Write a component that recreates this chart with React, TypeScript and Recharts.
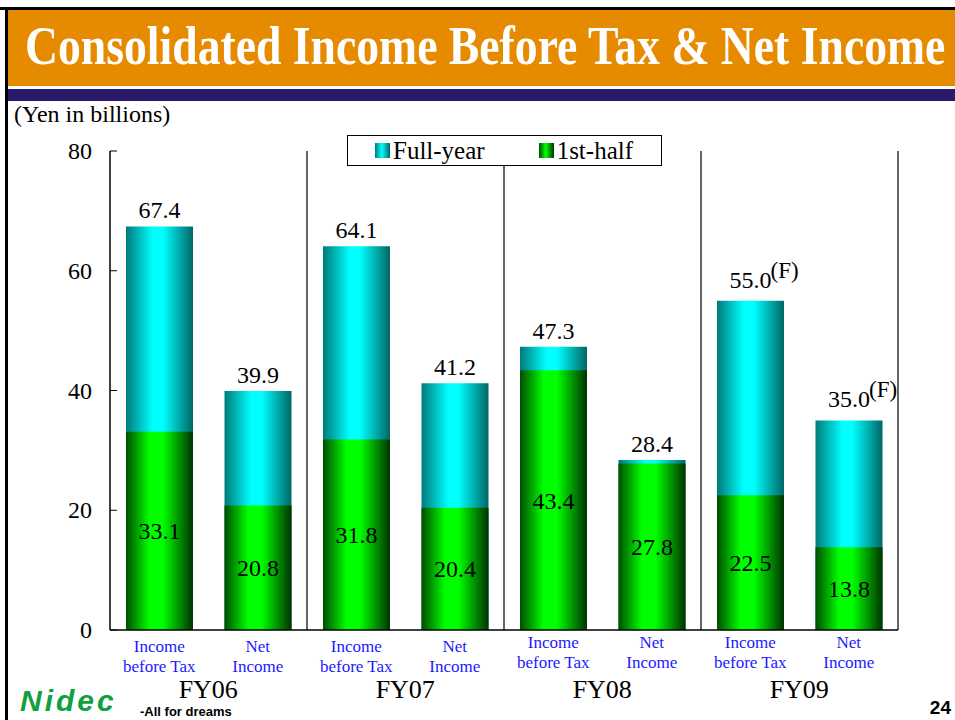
import React from "react";
import {
  BarChart,
  Bar,
  XAxis,
  YAxis,
  CartesianGrid,
  Legend,
  LabelList,
} from "recharts";

const years = ["FY06", "FY07", "FY08", "FY09"];
const itemLabels = [
  ["Income", "before Tax"],
  ["Net", "Income"],
];
const fullYear = [67.4, 39.9, 64.1, 41.2, 47.3, 28.4, 55.0, 35.0];
const firstHalf = [33.1, 20.8, 31.8, 20.4, 43.4, 27.8, 22.5, 13.8];
const forecast = [false, false, false, false, false, false, true, true];
const yTicks = [0, 20, 40, 60, 80];

const data = fullYear.map((v, i) => ({
  id: `${years[Math.floor(i / 2)]}-${i % 2}`,
  full: v,
  half: firstHalf[i],
}));

const SERIF = "'Liberation Serif', 'Times New Roman', serif";
const SANS = "'Liberation Sans', Arial, sans-serif";

const YTick = (props: any) => {
  const { x, y, payload } = props;
  return (
    <g>
      <line x1={x} y1={y} x2={x + 7} y2={y} stroke="#000" strokeWidth={1} />
      <text
        x={x - 18}
        y={y}
        dy={8}
        textAnchor="end"
        fontSize={24}
        fontFamily={SERIF}
        fill="#000"
      >
        {payload.value}
      </text>
    </g>
  );
};

const XTick = (props: any) => {
  const { x, y, index } = props;
  const lines = itemLabels[index % 2];
  const shift = index >= 4 ? -4 : 0;
  return (
    <g>
      {lines.map((t, k) => (
        <text
          key={k}
          x={x}
          y={y + 22 + k * 20 + shift}
          textAnchor="middle"
          fontSize={17}
          fontFamily={SERIF}
          fill="#1a1aff"
        >
          {t}
        </text>
      ))}
      {index % 2 === 0 && (
        <text
          x={x + 49}
          y={y + 68}
          textAnchor="middle"
          fontSize={26}
          fontFamily={SERIF}
          fill="#000"
        >
          {years[index / 2]}
        </text>
      )}
    </g>
  );
};

const TopLabel = (props: any) => {
  const { x, y, width, value, index } = props;
  const cx = x + width / 2;
  const isF = forecast[index];
  const ty = isF ? y - 13 : y - 8;
  return (
    <g>
      <text
        x={cx}
        y={ty}
        textAnchor="middle"
        fontSize={24}
        fontFamily={SERIF}
        fill="#000"
      >
        {Number(value).toFixed(1)}
      </text>
      {isF && (
        <text
          x={cx + 20}
          y={ty - 10}
          textAnchor="start"
          fontSize={23}
          fontFamily={SERIF}
          fill="#000"
        >
          (F)
        </text>
      )}
    </g>
  );
};

const CustomLegend = () => (
  <div
    style={{
      width: 313,
      height: 29,
      border: "1px solid #000",
      background: "#fff",
      display: "flex",
      alignItems: "center",
      fontFamily: SERIF,
      fontSize: 25,
      color: "#000",
      boxSizing: "content-box",
      whiteSpace: "nowrap",
    }}
  >
    <span
      style={{
        display: "inline-block",
        width: 15,
        height: 15,
        marginLeft: 27,
        marginRight: 3,
        background: "linear-gradient(to right, #007a7a, #00ffff 45%, #006666)",
      }}
    />
    <span>Full-year</span>
    <span
      style={{
        display: "inline-block",
        width: 15,
        height: 15,
        marginLeft: 54,
        marginRight: 3,
        background: "linear-gradient(to right, #004d00, #00ff00 45%, #003300)",
      }}
    />
    <span>1st-half</span>
  </div>
);

const App = () => {
  return (
    <div
      style={{
        position: "absolute",
        left: 0,
        top: 0,
        width: 955,
        height: 720,
        overflow: "hidden",
        background: "#fff",
        fontFamily: SERIF,
      }}
    >
      {/* slide frame and title */}
      <div style={{ position: "absolute", left: 0, top: 7, width: 955, height: 3, background: "#000" }} />
      <div style={{ position: "absolute", left: 5, top: 7, width: 3, height: 713, background: "#000" }} />
      <div
        style={{
          position: "absolute",
          left: 8,
          top: 10,
          width: 947,
          height: 76,
          background: "#e68a00",
        }}
      />
      <div
        style={{
          position: "absolute",
          left: 25,
          top: 19,
          fontSize: 54,
          lineHeight: "54px",
          fontWeight: "bold",
          color: "#fff",
          whiteSpace: "nowrap",
          transform: "scaleX(0.846)",
          transformOrigin: "0 0",
        }}
      >
        Consolidated Income Before Tax &amp; Net Income
      </div>
      <div style={{ position: "absolute", left: 8, top: 89, width: 947, height: 12, background: "#2b1a6b" }} />
      <div style={{ position: "absolute", left: 14, top: 101, fontSize: 24, color: "#000" }}>
        (Yen in billions)
      </div>

      <div style={{ position: "absolute", left: 0, top: 0 }}>
        <BarChart
          width={955}
          height={720}
          data={data}
          margin={{ top: 151, right: 57, bottom: 0, left: 0 }}
          barGap={-67}
        >
          <defs>
            <linearGradient id="gCyan" x1="0" y1="0" x2="1" y2="0">
              <stop offset="0%" stopColor="#007a7a" />
              <stop offset="40%" stopColor="#00ffff" />
              <stop offset="55%" stopColor="#00ffff" />
              <stop offset="100%" stopColor="#006666" />
            </linearGradient>
            <linearGradient id="gGreen" x1="0" y1="0" x2="1" y2="0">
              <stop offset="0%" stopColor="#004d00" />
              <stop offset="35%" stopColor="#00ff00" />
              <stop offset="55%" stopColor="#00ff00" />
              <stop offset="100%" stopColor="#003300" />
            </linearGradient>
          </defs>
          <CartesianGrid
            horizontal={false}
            stroke="#333"
            strokeWidth={1.5}
            verticalCoordinatesGenerator={({ offset }: any) =>
              [1, 2, 3, 4].map((k) => offset.left + (offset.width * k) / 4)
            }
          />
          <XAxis
            dataKey="id"
            height={90}
            interval={0}
            tickLine={false}
            tickSize={0}
            tickMargin={0}
            axisLine={{ stroke: "#000", strokeWidth: 1.5 }}
            tick={<XTick />}
          />
          <YAxis
            width={110}
            domain={[0, 80]}
            ticks={yTicks}
            tickLine={false}
            tickSize={0}
            tickMargin={0}
            axisLine={{ stroke: "#000", strokeWidth: 1.5 }}
            tick={<YTick />}
          />
          <Legend
            layout="horizontal"
            verticalAlign="middle"
            align="center"
            content={<CustomLegend />}
            wrapperStyle={{ position: "absolute", top: 135, left: 347, width: 315 }}
          />
          <Bar dataKey="full" name="Full-year" fill="url(#gCyan)" barSize={67} isAnimationActive={false}>
            <LabelList dataKey="full" content={<TopLabel />} />
          </Bar>
          <Bar dataKey="half" name="1st-half" fill="url(#gGreen)" barSize={67} isAnimationActive={false}>
            <LabelList
              dataKey="half"
              position="center"
              fontSize={24}
              fontFamily={SERIF}
              fill="#000"
              formatter={(v: any) => Number(v).toFixed(1)}
            />
          </Bar>
        </BarChart>
      </div>

      {/* footer */}
      <div
        style={{
          position: "absolute",
          left: 20,
          top: 686,
          fontFamily: SANS,
          fontStyle: "italic",
          fontWeight: "bold",
          fontSize: 30,
          lineHeight: "30px",
          letterSpacing: 3,
          color: "#10a040",
          whiteSpace: "nowrap",
        }}
      >
        Nidec
      </div>
      <div
        style={{
          position: "absolute",
          left: 140,
          top: 705,
          fontFamily: SANS,
          fontWeight: "bold",
          fontSize: 13,
          lineHeight: "14px",
          color: "#000",
          whiteSpace: "nowrap",
        }}
      >
        -All for dreams
      </div>
      <div
        style={{
          position: "absolute",
          right: 4,
          top: 697,
          fontFamily: SANS,
          fontWeight: "bold",
          fontSize: 19,
          color: "#000",
        }}
      >
        24
      </div>
    </div>
  );
};

export default App;
